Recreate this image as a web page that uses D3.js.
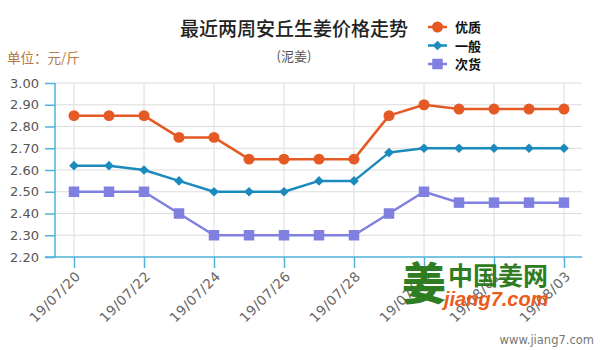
<!DOCTYPE html>
<html>
<head>
<meta charset="utf-8">
<script src="https://cdn.jsdelivr.net/npm/d3@7"></script>
<style>
  html, body { margin: 0; padding: 0; background: #fff; }
  svg { display: block; }
</style>
</head>
<body>
<svg id="chart" width="600" height="350"></svg>
<script>
// Daily dates, 2019-07-20 .. 2019-08-03
const dates = ["2019-07-20","2019-07-21","2019-07-22","2019-07-23","2019-07-24","2019-07-25",
  "2019-07-26","2019-07-27","2019-07-28","2019-07-29","2019-07-30","2019-07-31",
  "2019-08-01","2019-08-02","2019-08-03"];

// Price per jin (yuan) for each grade
const youzhi = [2.85, 2.85, 2.85, 2.75, 2.75, 2.65, 2.65, 2.65, 2.65, 2.85, 2.90, 2.88, 2.88, 2.88, 2.88];
const yiban  = [2.62, 2.62, 2.60, 2.55, 2.50, 2.50, 2.50, 2.55, 2.55, 2.68, 2.70, 2.70, 2.70, 2.70, 2.70];
const cihuo  = [2.50, 2.50, 2.50, 2.40, 2.30, 2.30, 2.30, 2.30, 2.30, 2.40, 2.50, 2.45, 2.45, 2.45, 2.45];

const seriesNames = ["优质", "一般", "次货"];
const yTicks = [2.20, 2.30, 2.40, 2.50, 2.60, 2.70, 2.80, 2.90, 3.00];
const xTickDates = ["2019-07-20","2019-07-22","2019-07-24","2019-07-26","2019-07-28",
  "2019-07-30","2019-08-01","2019-08-03"];

const parse = d3.timeParse("%Y-%m-%d");
const fmt = d3.timeFormat("%y/%m/%d");

const svg = d3.select("#chart");
const axisColor = "#4fb2da";
const gridColor = "#dcdcdc";
const colors = ["#e55a24", "#1b8bbd", "#7f80e0"];
const symbols = [d3.symbolCircle, d3.symbolDiamond2, d3.symbolSquare];
const symSizes = [95, 60, 110];

const plot = { left: 55, right: 582, top: 83, bottom: 257 };

const x = d3.scaleTime()
  .domain([parse(dates[0]), parse(dates[dates.length - 1])])
  .range([74, 564]);
const y = d3.scaleLinear().domain([2.2, 3.0]).range([plot.bottom, plot.top]);

// Grid
const grid = svg.append("g");
grid.selectAll("line.h").data(yTicks.slice(1)).join("line")
  .attr("x1", plot.left).attr("x2", plot.right)
  .attr("y1", d => y(d)).attr("y2", d => y(d))
  .attr("stroke", gridColor).attr("stroke-width", 1);
grid.selectAll("line.v").data(xTickDates).join("line")
  .attr("x1", d => x(parse(d))).attr("x2", d => x(parse(d)))
  .attr("y1", plot.top).attr("y2", plot.bottom)
  .attr("stroke", gridColor).attr("stroke-width", 1);

// Y axis
const yAxis = svg.append("g").attr("transform", `translate(${plot.left},0)`)
  .call(d3.axisLeft(y).tickValues(yTicks).tickFormat(d3.format(".2f")).tickSize(10).tickPadding(6));
yAxis.select(".domain").attr("stroke", axisColor).attr("stroke-width", 1.5)
  .attr("d", `M0,${plot.top}V${plot.bottom}`);
yAxis.selectAll(".tick line").attr("stroke", axisColor).attr("stroke-width", 1.5);
yAxis.selectAll(".tick text").attr("fill", "#555").attr("font-size", 13)
  .attr("font-family", "'DejaVu Sans', Verdana, sans-serif");

// X axis
const xAxis = svg.append("g").attr("transform", `translate(0,${plot.bottom})`)
  .call(d3.axisBottom(x).tickValues(xTickDates.map(parse)).tickFormat(fmt).tickSize(11).tickSizeOuter(0));
xAxis.select(".domain").attr("stroke", axisColor).attr("stroke-width", 1.5)
  .attr("d", `M45,0H${plot.right}`);
xAxis.selectAll(".tick line").attr("stroke", axisColor).attr("stroke-width", 1.5);
xAxis.selectAll(".tick text")
  .attr("fill", "#666").attr("font-size", 13.5)
  .attr("font-family", "'DejaVu Sans', Verdana, sans-serif")
  .attr("letter-spacing", 0.6)
  .attr("text-anchor", "end")
  .attr("dy", null).attr("y", 0)
  .attr("transform", "translate(7,20) rotate(-45)");

// Series
const allSeries = [youzhi, yiban, cihuo];
const line = d3.line().x((d, i) => x(parse(dates[i]))).y(d => y(d));
allSeries.forEach((vals, si) => {
  const g = svg.append("g");
  g.append("path").datum(vals).attr("d", line)
    .attr("fill", "none").attr("stroke", colors[si]).attr("stroke-width", 2.5)
    .attr("stroke-linejoin", "round");
  g.selectAll("path.m").data(vals).join("path")
    .attr("d", d3.symbol().type(symbols[si]).size(symSizes[si]))
    .attr("transform", (d, i) => `translate(${x(parse(dates[i]))},${y(d)})`)
    .attr("fill", colors[si]);
});

// Title, subtitle, unit
svg.append("text").attr("x", 294).attr("y", 36).attr("text-anchor", "middle")
  .attr("font-family", "'Noto Sans CJK SC', sans-serif").attr("font-size", 19).attr("font-weight", 500)
  .attr("fill", "#222").text("最近两周安丘生姜价格走势");
svg.append("text").attr("x", 294).attr("y", 61).attr("text-anchor", "middle")
  .attr("font-family", "'Noto Sans CJK SC', sans-serif").attr("font-size", 13)
  .attr("fill", "#555").text("(泥姜)");
svg.append("text").attr("x", 7).attr("y", 63)
  .attr("font-family", "'Noto Sans CJK SC', sans-serif").attr("font-size", 13.5)
  .attr("fill", "#b77a42").text("单位：元/斤");

// Legend
const legend = svg.append("g");
seriesNames.forEach((name, si) => {
  const ly = 27 + si * 18.5;
  legend.append("line").attr("x1", 428).attr("x2", 447).attr("y1", ly).attr("y2", ly)
    .attr("stroke", colors[si]).attr("stroke-width", 2.5);
  legend.append("path").attr("d", d3.symbol().type(symbols[si]).size(symSizes[si]))
    .attr("transform", `translate(437.5,${ly})`).attr("fill", colors[si]);
  legend.append("text").attr("x", 455).attr("y", ly + 5)
    .attr("font-family", "'Noto Sans CJK SC', sans-serif").attr("font-size", 13).attr("font-weight", 700)
    .attr("fill", "#111").text(name);
});

// Site mark
const mark = svg.append("g");
mark.append("text").attr("x", 402).attr("y", 300)
  .attr("font-family", "'Noto Sans CJK SC', sans-serif").attr("font-size", 44).attr("font-weight", 900)
  .attr("fill", "#2f7d22").text("姜");
mark.append("text").attr("x", 448).attr("y", 285)
  .attr("font-family", "'Noto Sans CJK SC', sans-serif").attr("font-size", 25).attr("font-weight", 700)
  .attr("fill", "#2f7d22").text("中国姜网");
mark.append("text").attr("x", 444).attr("y", 306)
  .attr("font-family", "'Liberation Sans', Arial, sans-serif").attr("font-size", 20).attr("font-weight", 700)
  .attr("font-style", "italic").attr("fill", "#ee5a1a").text("jiang7.com");
svg.append("text").attr("x", 594).attr("y", 344).attr("text-anchor", "end")
  .attr("font-family", "'DejaVu Sans', Verdana, sans-serif").attr("font-size", 11.5)
  .attr("fill", "#777").text("www.jiang7.com");
</script>
</body>
</html>
